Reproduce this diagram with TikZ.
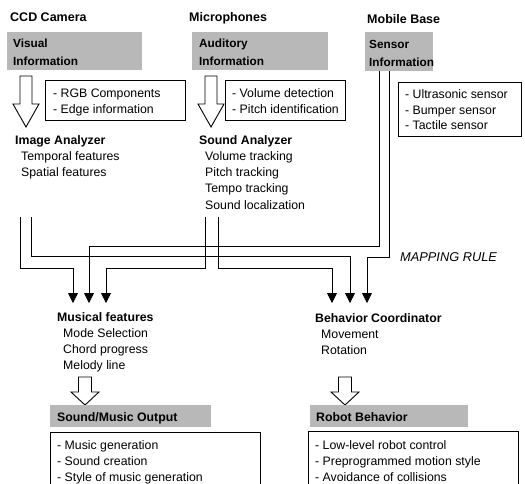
\documentclass[tikz,border=0pt]{standalone}
\usepackage{fontspec}
\setmainfont{Liberation Sans}
\usetikzlibrary{arrows.meta}
\definecolor{boxgray}{gray}{0.72}
\newcommand\myharrow[6]{\draw[hollow] (#1-#5,#2) -- (#1+#5,#2) -- (#1+#5,#3) -- (#1+#6,#3) -- (#1,#4) -- (#1-#6,#3) -- (#1-#5,#3) -- cycle;}
\begin{document}
\begin{tikzpicture}[x=1pt,y=-1pt,
  txt/.style={anchor=north west, inner sep=0pt, align=left, font=\fontsize{12.3}{16}\selectfont},
  hdr/.style={anchor=base west, inner sep=0pt, font=\fontsize{12.5}{15}\selectfont\bfseries},
  gtxt/.style={anchor=north west, inner sep=0pt, align=left, font=\fontsize{11.8}{18.5}\selectfont\bfseries},
  gbox/.style={fill=boxgray, draw=none, anchor=north west, inner sep=0pt},
  wbox/.style={draw=black, line width=0.8pt, fill=white, anchor=north west, inner sep=0pt},
  conn/.style={draw=black, line width=0.8pt, -{Triangle[length=10pt,width=10pt]}},
  hollow/.style={draw=black, line width=0.9pt, fill=white, line join=miter}]
\useasboundingbox (0,0) rectangle (525,483);

% headers
\node[hdr] (ccd) at (10,21) {CCD Camera};
\node[hdr] (mic) at (189,21) {Microphones};
\node[hdr] (mob) at (367,23) {Mobile Base};

% gray input boxes
\node[gbox, minimum width=135pt, minimum height=38pt] (vis) at (7,32) {};
\node[gtxt] (vist) at (13,34) {\strut Visual\\\strut Information};
\node[gbox, minimum width=136pt, minimum height=38pt] (aud) at (192,32) {};
\node[gtxt] (audt) at (199,34) {\strut Auditory\\\strut Information};
\node[gbox, minimum width=68pt, minimum height=39pt] (sen) at (365,32) {};
\node[gtxt] (sent) at (369,35) {\strut Sensor\\\strut Information};

% white detail boxes (top)
\node[wbox, minimum width=140pt, minimum height=40pt] (rgb) at (45,80) {};
\node[txt] (rgbt) at (53,85.8) {\strut - RGB Components\\\strut - Edge information};
\node[wbox, minimum width=120pt, minimum height=40pt] (vol) at (225,80) {};
\node[txt] (volt) at (232,85.8) {\strut - Volume detection\\\strut - Pitch identification};
\node[wbox, minimum width=123pt, minimum height=54pt] (ult) at (398,82) {};
\node[txt, font=\fontsize{12.3}{15.5}\selectfont] (ultt) at (405,87.8) {\strut - Ultrasonic sensor\\\strut - Bumper sensor\\\strut - Tactile sensor};

% hollow arrows (top)
\myharrow{26}{76}{104}{127}{6}{13}
\myharrow{211}{76}{104}{127}{6}{13}

% analyzers
\node[txt] (ia) at (15,132.8) {\strut\textbf{Image Analyzer}\\\strut\hspace{6pt}Temporal features\\\strut\hspace{6pt}Spatial features};
\node[txt, font=\fontsize{12.3}{16.2}\selectfont] (sa) at (199,132.8) {\strut\textbf{Sound Analyzer}\\\strut\hspace{6pt}Volume tracking\\\strut\hspace{6pt}Pitch tracking\\\strut\hspace{6pt}Tempo tracking\\\strut\hspace{6pt}Sound localization};

% connector end points
\coordinate (ia1) at (20,217);
\coordinate (ia2) at (31,217);
\coordinate (sa1) at (205,217);
\coordinate (sa2) at (218,217);
\coordinate (se1) at (379,71);
\coordinate (se2) at (389,71);
\coordinate (mf1) at (73,303);
\coordinate (mf2) at (89,303);
\coordinate (mf3) at (106,303);
\coordinate (bc1) at (332,303);
\coordinate (bc2) at (350,303);
\coordinate (bc3) at (367,303);

\draw[conn] (ia1) -- ++(0,51) -| (mf1);
\draw[conn] (ia2) -- ++(0,39) -| (bc2);
\draw[conn] (sa1) -- ++(0,51) -| (mf3);
\draw[conn] (sa2) -- ++(0,51) -| (bc1);
\draw[conn] (se1) -- ++(0,175) -| (mf2);
\draw[conn] (se2) -- ++(0,186) -| (bc3);

\node[anchor=base west, inner sep=0pt, font=\fontsize{12.8}{15}\selectfont\itshape] (map) at (400,261) {MAPPING RULE};

% mapping targets
\node[txt] (mf) at (57,309.8) {\strut\textbf{Musical features}\\\strut\hspace{6pt}Mode Selection\\\strut\hspace{6pt}Chord progress\\\strut\hspace{6pt}Melody line};
\node[txt] (bc) at (315,310.8) {\strut\textbf{Behavior Coordinator}\\\strut\hspace{6pt}Movement\\\strut\hspace{6pt}Rotation};

% hollow arrows (bottom)
\myharrow{85}{377}{392}{405}{6.5}{14}
\myharrow{345}{377}{392}{405}{6.5}{14}

% output gray boxes
\node[gbox, minimum width=161pt, minimum height=22pt] (smo) at (50,405) {};
\node[hdr, font=\fontsize{12.3}{15}\selectfont\bfseries] (smot) at (57,421) {Sound/Music Output};
\node[gbox, minimum width=158pt, minimum height=22pt] (rb) at (310,405) {};
\node[hdr, font=\fontsize{12.3}{15}\selectfont\bfseries] (rbt) at (316,421) {Robot Behavior};

% output detail boxes (cut by the lower edge)
\node[wbox, minimum width=210pt, minimum height=75pt] (smd) at (50,432) {};
\node[txt] (smdt) at (57,437.8) {\strut - Music generation\\\strut - Sound creation\\\strut - Style of music generation};
\node[wbox, minimum width=210pt, minimum height=75pt] (rbd) at (308,431) {};
\node[txt] (rbdt) at (315,437.8) {\strut - Low-level robot control\\\strut - Preprogrammed motion style\\\strut - Avoidance of collisions};
\end{tikzpicture}
\end{document}
